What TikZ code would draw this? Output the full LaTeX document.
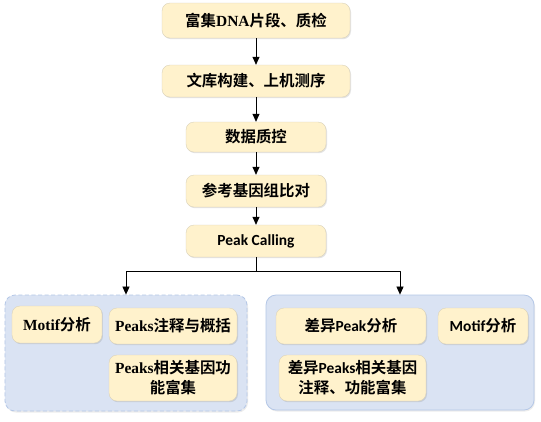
\documentclass[tikz,border=0pt]{standalone}
\usepackage{fontspec}
\newfontfamily\cjk{Noto Sans CJK SC}[BoldFont={Noto Sans CJK SC Bold}]
\newfontfamily\serlat{Liberation Serif}
\newfontfamily\callat{Carlito}
\usetikzlibrary{arrows.meta,shadows}

\definecolor{boxfill}{RGB}{255,242,204}
\definecolor{boxline}{RGB}{218,210,186}
\definecolor{grpfill}{RGB}{218,227,243}
\definecolor{grpline}{RGB}{180,199,231}

\tikzset{
	stepbox/.style={draw=boxline,fill=boxfill,rounded corners=8bp,align=center,
		inner sep=1pt,font=\cjk\bfseries\fontsize{15.5}{20}\selectfont,
		drop shadow={shadow xshift=1pt,shadow yshift=-1.2pt,opacity=.18,fill=black!60}},
	grpbox/.style={draw=grpline,fill=grpfill,rounded corners=10bp,line width=.8pt,
		drop shadow={shadow xshift=1pt,shadow yshift=-1.5pt,opacity=.12,fill=black!60}},
	flow/.style={-{Triangle[width=7pt,length=8pt]},line width=.7pt}
}

\begin{document}
\begin{tikzpicture}[x=1bp,y=-1bp,line join=round]
	\useasboundingbox[fill=white] (0,0) rectangle (541,421);
	
	%% main chain
	\node[stepbox,minimum width=188bp,minimum height=35bp] (s1) at (256,20.5)
		{富集{\serlat DNA}片段、质检};
	\node[stepbox,minimum width=188bp,minimum height=32bp] (s2) at (256,81)
		{文库构建、上机测序};
	\node[stepbox,minimum width=140bp,minimum height=30bp] (s3) at (256,137)
		{数据质控};
	\node[stepbox,minimum width=140bp,minimum height=32bp] (s4) at (256,191)
		{参考基因组比对};
	\node[stepbox,minimum width=140bp,minimum height=32bp] (s5) at (256,241)
		{\callat Peak Calling};
	
	\foreach \a/\b in {s1/s2,s2/s3,s3/s4,s4/s5}{
		\draw[flow] (\a) -- (\b);
	}
	
	%% two groups
	\node[grpbox,dashed,dash pattern=on 4bp off 2.5bp,minimum width=242bp,minimum height=116bp] (gL) at (126,353) {};
	\node[grpbox,minimum width=268bp,minimum height=115bp] (gR) at (400,352.5) {};
	
	\path (256,271) coordinate (split);
	\draw[line width=.7pt] (s5) -- (split);
	\draw[flow] (split) -| (gL.north);
	\draw[flow] (split) -| (gR.north);
	
	%% left group
	\node[stepbox,minimum width=90bp,minimum height=37bp] (mL) at (57,324.5)
		{{\serlat Motif}分析};
	\node[stepbox,minimum width=128bp,minimum height=36bp] (pA) at (173,326)
		{{\serlat Peaks}注释与概括};
	\node[stepbox,minimum width=128bp,minimum height=46bp] (pB) at (173,378)
		{{\serlat Peaks}相关基因功\\能富集};
	
	%% right group
	\node[stepbox,minimum width=150bp,minimum height=36bp] (dA) at (351,326)
		{差异{\callat Peak}分析};
	\node[stepbox,minimum width=90bp,minimum height=36bp] (mR) at (483,326)
		{{\callat Motif}分析};
	\node[stepbox,minimum width=147bp,minimum height=46bp] (dB) at (352.5,378)
		{差异{\callat Peaks}相关基因\\注释、功能富集};
\end{tikzpicture}
\end{document}
